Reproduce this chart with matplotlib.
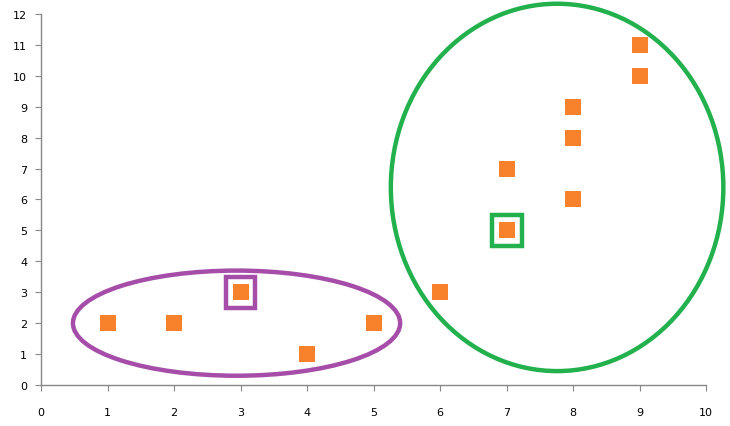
import matplotlib
matplotlib.use("Agg")
import matplotlib.pyplot as plt
from matplotlib.patches import Ellipse, Rectangle

# points
xs = [1, 2, 3, 4, 5, 6, 7, 7, 8, 8, 8, 9, 9]
ys = [2, 2, 3, 1, 2, 3, 5, 7, 6, 8, 9, 10, 11]

# clusters: (cx, cy, w, h)
violet = (2.94, 2.0, 4.92, 3.4)
vert = (7.76, 6.39, 5.0, 11.88)
# centres mis en evidence
centre_violet = (3, 3)
centre_vert = (7, 5)

orange = "#F8812B"
c_violet = "#A54DA8"
c_vert = "#22B14C"

fig = plt.figure(figsize=(7.3, 4.27), dpi=100)
ax = fig.add_axes([0.0562, 0.096, 0.911, 0.869])

ax.scatter(xs, ys, marker="s", s=135, color=orange, zorder=3, linewidths=0)

for (cx, cy, w, h), c in [(violet, c_violet), (vert, c_vert)]:
    e = Ellipse((cx, cy), w, h, fill=False, edgecolor=c, lw=3.2, clip_on=False, zorder=2)
    ax.add_patch(e)

# carres autour des centres (taille en unites de donnees)
dx, dy = 0.45, 0.99
for (cx, cy), c in [(centre_violet, c_violet), (centre_vert, c_vert)]:
    r = Rectangle((cx - dx / 2, cy - dy / 2), dx, dy, fill=False, edgecolor=c, lw=3.2, zorder=2)
    ax.add_patch(r)

ax.set_xlim(0, 10)
ax.set_ylim(0, 12)
ax.set_xticks(range(0, 11))
ax.set_yticks(range(0, 13))

for s in ["top", "right"]:
    ax.spines[s].set_visible(False)
for s in ["left", "bottom"]:
    ax.spines[s].set_color("#888888")
    ax.spines[s].set_linewidth(1)

ax.tick_params(axis="both", colors="#888888", labelcolor="black", labelsize=8, length=4)
ax.tick_params(axis="x", pad=12)
ax.tick_params(axis="y", pad=6)

fig.savefig("out.png", dpi=100, facecolor="white")
